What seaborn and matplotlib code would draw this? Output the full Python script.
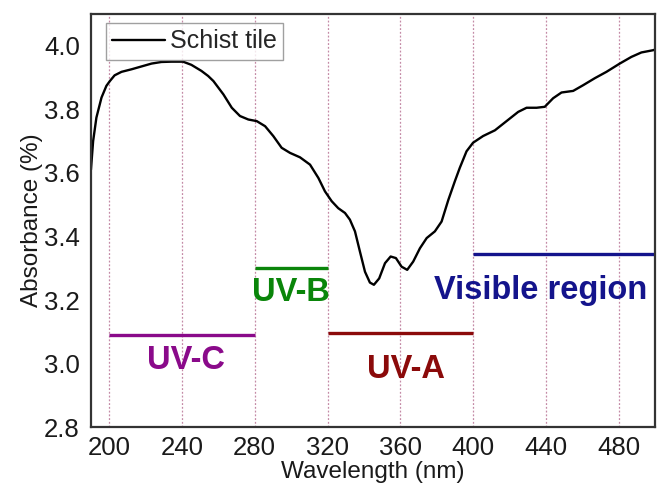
import matplotlib
matplotlib.use("Agg")
import matplotlib.pyplot as plt
import seaborn as sns
import pandas as pd

wavelength = [190, 191.2, 193, 195.8, 198.5, 200.4, 203, 206.8, 212.3, 217.8, 223.3, 228.7, 234.2, 240.6,
              245.2, 250.7, 254.4, 257.3, 262.8, 267.4, 271.9, 276.5, 281.1, 285.7, 290.2, 294.8,
              299.4, 304.9, 310.4, 315, 318.6, 322.3, 325.9, 329.6, 332.3, 335.1, 337.8, 340.6,
              343.3, 345.5, 348.4, 351.6, 354.7, 357.6, 360.7, 363.8, 367.1, 370.8, 374.5, 379,
              382.7, 386.4, 390, 392.7, 396.4, 400, 405.5, 412, 418.4, 424.8, 429.4, 434.9, 439.4,
              444, 448.6, 455, 460.5, 466.9, 473.3, 480.6, 487, 492.5, 498.9, 500]
absorbance = [3.61, 3.70, 3.774, 3.837, 3.874, 3.889, 3.907, 3.918, 3.926, 3.935, 3.944, 3.949, 3.950, 3.950,
              3.94, 3.921, 3.905, 3.889, 3.847, 3.805, 3.779, 3.768, 3.763, 3.747, 3.716, 3.679,
              3.663, 3.649, 3.626, 3.584, 3.542, 3.511, 3.489, 3.474, 3.453, 3.416, 3.353, 3.289,
              3.255, 3.248, 3.268, 3.316, 3.337, 3.332, 3.305, 3.295, 3.321, 3.363, 3.395, 3.416,
              3.447, 3.515, 3.574, 3.616, 3.668, 3.695, 3.716, 3.734, 3.763, 3.792, 3.805, 3.805, 3.808,
              3.835, 3.853, 3.858, 3.876, 3.898, 3.918, 3.944, 3.965, 3.979, 3.986, 3.988]

region_names = ["UV-C", "UV-B", "UV-A", "Visible region"]
region_start = [200, 280, 320, 400]
region_end = [280, 320, 400, 500]
region_level = [3.09, 3.30, 3.095, 3.345]
label_x = [242, 300, 363, 437]
label_y = [3.01, 3.225, 2.98, 3.23]
region_colors = ["#8a0a8a", "#0a850a", "#8b0a0a", "#14148c"]

grid_x = [200, 240, 280, 320, 360, 400, 440, 480]

sns.set_theme(style="white")
plt.rcParams["font.family"] = ["Liberation Sans", "DejaVu Sans"]

fig = plt.figure(figsize=(6.59, 4.91), dpi=100)
ax = fig.add_axes([0.138, 0.130, 0.856, 0.8415])

for gx in grid_x:
    ax.axvline(gx, color="#c48aa6", linestyle=(0, (1.5, 1.5)), linewidth=0.9, zorder=0)

df = pd.DataFrame({"Wavelength": wavelength, "Absorbance": absorbance})
sns.lineplot(data=df, x="Wavelength", y="Absorbance", ax=ax, color="black",
             linewidth=1.7, label="Schist tile")

for name, s, e, lv, lx, ly, c in zip(region_names, region_start, region_end, region_level,
                                     label_x, label_y, region_colors):
    ax.plot([s, e], [lv, lv], color=c, linewidth=2.4, solid_capstyle="butt")
    ax.text(lx, ly, name, color=c, fontsize=23.5, fontweight="bold", ha="center", va="center")

ax.set_xlim(190, 500)
ax.set_ylim(2.8, 4.1)
ax.set_xticks([200, 240, 280, 320, 360, 400, 440, 480])
ax.set_yticks([2.8, 3.0, 3.2, 3.4, 3.6, 3.8, 4.0])
ax.set_yticklabels([f"{v:.1f}" for v in [2.8, 3.0, 3.2, 3.4, 3.6, 3.8, 4.0]])
ax.tick_params(axis="both", labelsize=18.5, length=0, colors="#1a1a1a")
ax.tick_params(axis="x", pad=6)
ax.tick_params(axis="y", pad=8)
ax.set_xlabel("Wavelength (nm)", fontsize=17.5, labelpad=1, color="#1a1a1a")
ax.set_ylabel("Absorbance (%)", fontsize=17.5, labelpad=1, color="#1a1a1a")

for sp in ax.spines.values():
    sp.set_color("#333333")
    sp.set_linewidth(1.6)

leg = ax.legend(loc="upper left", fontsize=18, frameon=True, fancybox=False,
                handlelength=2.1, handletextpad=0.2, borderpad=0.25,
                bbox_to_anchor=(0.027, 0.978), borderaxespad=0.0)
leg.get_frame().set_edgecolor("#888888")
leg.get_frame().set_linewidth(1.0)

fig.savefig("out.png", dpi=100)
